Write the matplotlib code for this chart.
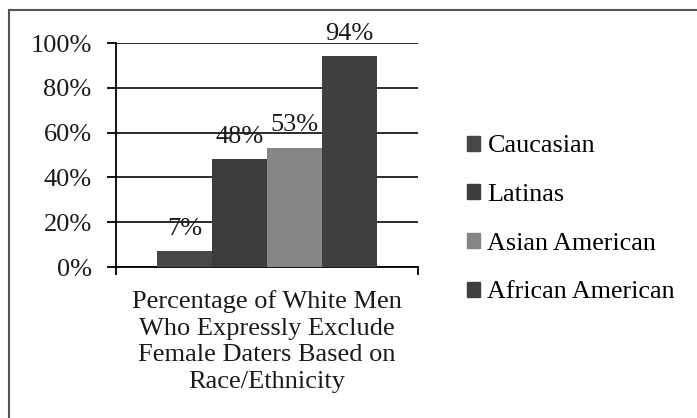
import matplotlib.pyplot as plt
import matplotlib.patches as mpatches
from matplotlib.lines import Line2D

# Chart data
groups = ["Caucasian", "Latinas", "Asian American", "African American"]
values = [7, 48, 53, 94]
colors = ["#474747", "#3d3d3d", "#858585", "#3f3f3f"]
y_ticks = [0, 20, 40, 60, 80, 100]
x_title = "Percentage of White Men\nWho Expressly Exclude\nFemale Daters Based on\nRace/Ethnicity"

plt.rcParams['font.family'] = ['Liberation Serif', 'DejaVu Serif']
FS = 19

W, H = 697, 418
fig = plt.figure(figsize=(W / 100, H / 100), dpi=100)
fig.patch.set_facecolor("white")

ax = fig.add_axes([116 / W, (H - 267) / H, (418 - 116) / W, (267 - 43) / H])

bar_w = 0.182
n = len(values)
for i, (g, v, c) in enumerate(zip(groups, values, colors)):
    xc = 0.5 + (i - (n - 1) / 2) * bar_w
    ax.bar(xc, v, width=bar_w, color=c, label=g, zorder=3)
    ax.annotate(f"{v}%", (xc, v), xytext=(0, 8.5), textcoords="offset points",
                ha="center", va="bottom", fontsize=FS, color="#1a1a1a", zorder=4)

ax.set_xlim(0, 1)
ax.set_ylim(0, 100)
ax.set_yticks(y_ticks)
ax.set_yticklabels([f"{t}%" for t in y_ticks], fontsize=FS, color="#1a1a1a")
ax.set_xticks([0, 1])
ax.set_xticklabels(["", ""])
ax.tick_params(axis="y", direction="out", length=6.5, width=1.3, pad=11)
ax.tick_params(axis="x", direction="out", length=5.5, width=1.3)
ax.grid(True, axis="y", color="#1a1a1a", linewidth=1.3, zorder=0)
ax.set_axisbelow(True)
for s in ["top", "right"]:
    ax.spines[s].set_visible(False)
ax.spines["left"].set_linewidth(1.3)
ax.spines["bottom"].set_linewidth(1.3)

fig.text(267 / W, (H - 290) / H, x_title, ha="center", va="top",
         fontsize=FS, linespacing=1.27, color="#1a1a1a")

handles = [mpatches.Patch(color=c) for c in colors]
fig.legend(handles, groups, loc="upper left", bbox_to_anchor=(443 / W, (H - 112) / H),
           frameon=False, fontsize=18.8, handlelength=0.5, handleheight=0.5,
           handletextpad=0.3, labelspacing=1.02)

# outer frame of the scanned chart (left and top edges only)
fig.add_artist(Line2D([9 / W, 9 / W], [0, 1 - 10 / H], color="#555555", lw=1.5,
                      transform=fig.transFigure))
fig.add_artist(Line2D([9 / W, 1], [1 - 10 / H, 1 - 10 / H], color="#555555", lw=1.5,
                      transform=fig.transFigure))

plt.savefig("out.png", dpi=100)
